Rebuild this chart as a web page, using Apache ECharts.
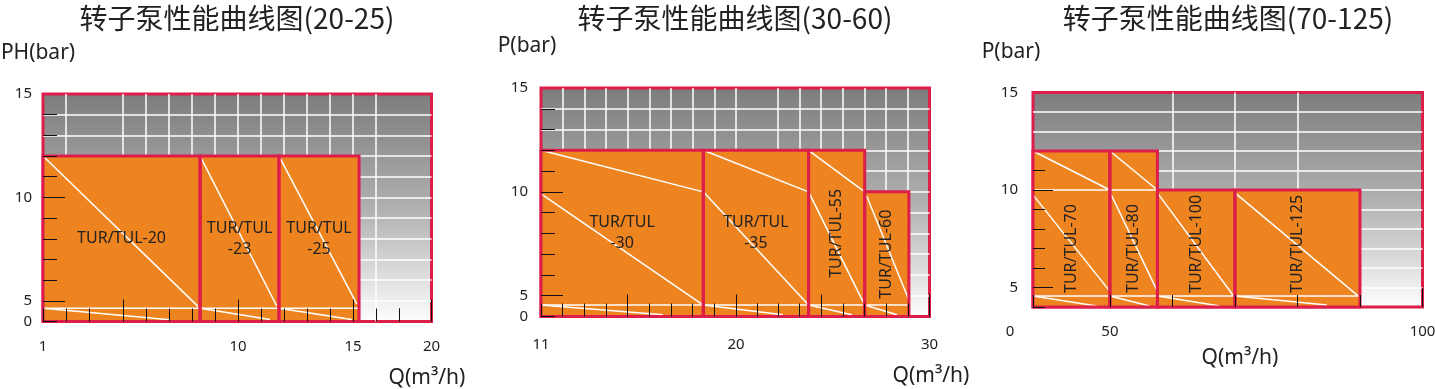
<!DOCTYPE html>
<html><head><meta charset="utf-8">
<script src="https://cdn.jsdelivr.net/npm/echarts@6/dist/echarts.min.js"></script>
<style>html,body{margin:0;padding:0;background:#fff}#c{width:1435px;height:389px}</style>
</head><body><div id="c"></div>
<script>
// ---------------- text ----------------
const titles = ['转子泵性能曲线图(20-25)', '转子泵性能曲线图(30-60)', '转子泵性能曲线图(70-125)'];
const yNames = ['PH(bar)', 'P(bar)', 'P(bar)'];
const xNames = ['Q(m³/h)', 'Q(m³/h)', 'Q(m³/h)'];

// ---------------- axes (values) ----------------
const xRange1 = [1, 20];
const xRange2 = [11, 30];
const xRange3 = [0, 100];
const xLabels1 = [1, 10, 15, 20];
const xLabels2 = [11, 20, 30];
const xLabels3 = [0, 50, 100];
const xMajor1 = [5, 10, 15, 20];
const xMajor2 = [15, 20, 25, 30];
const xMajor3 = [100];
const xMinor3 = [0, 50, 60, 70, 80, 90];
const xGrid3 = [50, 60, 70, 80, 90];
// compressed (broken) parts of the Q axes, as drawn in the original
const xBreaks1 = [[3, 3.52], [17, 18.59]];
const xBreaks2 = [[21, 22.07]];
const xBreaks3 = [[0, 37.7]];
const yRange = [0, 15];
const yBreaks = [[0, 4]];            // compressed part of the P axis
const yLabels12 = [0, 5, 10, 15];
const yLabels3 = [5, 10, 15];
const yMajor = [5, 10];
const yMinor12 = [0, 4, 5, 6, 7, 8, 9, 10, 11, 12, 13, 14];
const yMinor3 = [4, 5, 6, 7, 8, 9, 10, 11];

// ---------------- chart 1 (20-25) ----------------
const models1 = ['TUR/TUL-20', 'TUR/TUL\n-23', 'TUR/TUL\n-25'];
const qStart1 = [1, 8.35, 11.78];
const qEnd1 = [8.35, 11.78, 15.26];
const pTop1 = [12, 12, 12];
const curves1 = [
  [[1, 12], [8.27, 4.72]],
  [[8.35, 12], [11.68, 4.75]],
  [[11.78, 12], [15.16, 4.85]],
  [[1, 4.64], [15.26, 4.64]],
  [[1, 4.64], [7.04, 4.08]],
  [[8.35, 4.64], [11.39, 4.1]],
  [[11.78, 4.64], [14.94, 4.1]]
];

// ---------------- chart 2 (30-60) ----------------
const models2 = ['TUR/TUL\n-30', 'TUR/TUL\n-35', 'TUR/TUL-55', 'TUR/TUL-60'];
const qStart2 = [11, 18.49, 24.42, 27.01];
const qEnd2 = [18.49, 24.42, 27.01, 29.05];
const pTop2 = [12, 12, 12, 10];
const curves2 = [
  [[11, 12], [18.49, 10]],
  [[11, 9.9], [18.49, 4.55]],
  [[18.49, 12], [24.42, 10]],
  [[18.49, 10], [24.42, 4.55]],
  [[24.42, 12], [27.01, 10]],
  [[24.42, 10], [27.01, 4.55]],
  [[27.1, 9.8], [29.02, 4.87]],
  [[11, 4.55], [29.05, 4.55]],
  [[11, 4.55], [16.63, 4.08]],
  [[18.49, 4.55], [23.24, 4.08]],
  [[24.42, 4.55], [26.42, 4.08]],
  [[27.01, 4.55], [28.5, 4.08]]
];

// ---------------- chart 3 (70-125) ----------------
const models3 = ['TUR/TUL-70', 'TUR/TUL-80', 'TUR/TUL-100', 'TUR/TUL-125'];
const qStart3 = [0, 50, 57.6, 70];
const qEnd3 = [50, 57.6, 70, 90];
const pTop3 = [12, 12, 10, 10];
const curves3 = [
  [[0, 12], [50, 10]],
  [[0, 9.75], [50, 4.8]],
  [[50, 12], [57.6, 10]],
  [[50, 9.9], [57.6, 4.8]],
  [[57.6, 9.85], [69.7, 4.6]],
  [[70, 9.85], [89.6, 4.6]],
  [[0, 10], [57.6, 10]],
  [[0, 4.56], [90, 4.56]],
  [[0, 4.56], [47.9, 4.05]],
  [[50, 4.56], [56.4, 4.05]],
  [[57.6, 4.56], [67.6, 4.05]],
  [[70, 4.56], [84.7, 4.1]]
];

// ---------------- styles ----------------
const ORANGE = '#ee8420';
const CRIMSON = '#dd1d4a';
const TXT = '#222';
const FONT = '"Noto Sans", "DejaVu Sans", sans-serif';
const CJK = '"Noto Sans CJK SC", sans-serif';
const bgGrad = new echarts.graphic.LinearGradient(0, 0, 0, 1, [
  { offset: 0, color: '#7c7c7c' },
  { offset: 0.5, color: '#b0b0b0' },
  { offset: 0.8, color: '#dedede' },
  { offset: 1, color: '#ffffff' }
]);

const charts = [
  { grid: { left: 43, top: 94, width: 388.5, height: 227.5 }, xRange: xRange1, xBreaks: xBreaks1,
    xLabels: xLabels1, xMajor: xMajor1, xMinor: null, xGrid: null, yLabels: yLabels12, yMinor: yMinor12,
    models: models1, qs: qStart1, qe: qEnd1, pt: pTop1, curves: curves1, vertical: [false, false, false], bottomText: false,
    yName: { gap: 41, dx: 5 }, xName: { gap: 56.5, dx: 189.75 }, xLabelMargin: 18, yLabelMargin: 11,
    tickShort: 13, tickLong: 22, yShort: 14, yLong: 22 },
  { grid: { left: 541, top: 88, width: 388.5, height: 228.5 }, xRange: xRange2, xBreaks: xBreaks2,
    xLabels: xLabels2, xMajor: xMajor2, xMinor: null, xGrid: null, yLabels: yLabels12, yMinor: yMinor12,
    models: models2, qs: qStart2, qe: qEnd2, pt: pTop2, curves: curves2, vertical: [false, false, true, true], bottomText: false,
    yName: { gap: 42, dx: 14 }, xName: { gap: 59.5, dx: 195.75 }, xLabelMargin: 21, yLabelMargin: 13,
    tickShort: 13, tickLong: 22, yShort: 14, yLong: 22 },
  { grid: { left: 1033, top: 92.5, width: 389.5, height: 214.5 }, xRange: xRange3, xBreaks: xBreaks3,
    xLabels: xLabels3, xMajor: xMajor3, xMinor: xMinor3, xGrid: xGrid3, yLabels: yLabels3, yMinor: yMinor3,
    models: models3, qs: qStart3, qe: qEnd3, pt: pTop3, curves: curves3, vertical: [true, true, true, true], bottomText: true,
    yName: { gap: 40.5, dx: 22 }, xName: { gap: 51, dx: 12.25 }, xLabelMargin: 17, yLabelMargin: 15,
    tickShort: 12, tickLong: 19, yShort: 12, yLong: 20 }
];

const grids = [], xAxes = [], yAxes = [], series = [], graphics = [];
const titleCenters = [237, 735, 1228];

function brk(list) { return list.map(b => ({ start: b[0], end: b[1], gap: 0 })); }

charts.forEach((c, gi) => {
  grids.push(Object.assign({ show: true, backgroundColor: bgGrad, borderColor: CRIMSON, borderWidth: 3,
    containLabel: false, outerBoundsMode: 'none' }, c.grid));
  const xBase = { gridIndex: gi, type: 'value', min: c.xRange[0], max: c.xRange[1], position: 'bottom', offset: 0,
    breaks: brk(c.xBreaks), breakArea: { show: false }, axisLine: { show: false }, axisPointer: { show: false } };
  const yBase = { gridIndex: gi, type: 'value', min: yRange[0], max: yRange[1], position: 'left', offset: 0,
    breaks: brk(yBreaks), breakArea: { show: false }, axisLine: { show: false }, axisPointer: { show: false } };
  const xi = xAxes.length, yi = yAxes.length;
  // layer 0: white grid lines
  xAxes.push(Object.assign({}, xBase, {
    z: 1, axisLabel: { show: false },
    axisTick: c.xGrid ? { show: false, customValues: c.xGrid } : { show: false },
    interval: c.xGrid ? undefined : 1,
    splitLine: { show: true, showMinLine: false, showMaxLine: false, lineStyle: { color: '#ffffff', width: 1.5 } }
  }));
  yAxes.push(Object.assign({}, yBase, {
    z: 1, interval: 1, axisLabel: { show: false }, axisTick: { show: false },
    splitLine: { show: true, showMinLine: false, showMaxLine: false, lineStyle: { color: '#ffffff', width: 1.5 } }
  }));
  // layer 1: short ticks + labels + names
  xAxes.push(Object.assign({}, xBase, {
    z: 10, interval: c.xMinor ? undefined : 1,
    axisTick: c.xMinor ? { show: true, inside: true, length: c.tickShort, customValues: c.xMinor, lineStyle: { color: '#111' } }
                       : { show: true, inside: true, length: c.tickShort, lineStyle: { color: '#111' } },
    splitLine: { show: false },
    axisLabel: { show: true, customValues: c.xLabels, margin: c.xLabelMargin, color: TXT, fontSize: 15, fontFamily: FONT,
      formatter: gi === 2 ? (v => v === 0 ? '{o|0}' : String(v)) : (v => String(v)),
      rich: { o: { padding: [0, 46, 0, 0], fontSize: 15, fontFamily: FONT, color: TXT } } },
    name: xNames[gi], nameLocation: 'middle', nameGap: c.xName.gap,
    nameTextStyle: { fontSize: 21, fontFamily: FONT, color: TXT, align: 'center', verticalAlign: 'middle',
      padding: [0, 0, 0, 2 * c.xName.dx] }
  }));
  yAxes.push(Object.assign({}, yBase, {
    z: 10,
    axisTick: { show: true, inside: true, length: c.yShort, customValues: c.yMinor, lineStyle: { color: '#111' } },
    splitLine: { show: false },
    axisLabel: { show: true, customValues: c.yLabels, margin: c.yLabelMargin, color: TXT, fontSize: 15, fontFamily: FONT },
    name: yNames[gi], nameLocation: 'end', nameGap: c.yName.gap,
    nameTextStyle: { fontSize: 21, fontFamily: FONT, color: TXT, align: 'center', verticalAlign: 'middle',
      padding: [0, 2 * c.yName.dx, 0, 0] }
  }));
  // layer 2: long ticks
  xAxes.push(Object.assign({}, xBase, {
    z: 10, axisLabel: { show: false }, splitLine: { show: false },
    axisTick: { show: true, inside: true, length: c.tickLong, customValues: c.xMajor, lineStyle: { color: '#111' } }
  }));
  yAxes.push(Object.assign({}, yBase, {
    z: 10, axisLabel: { show: false }, splitLine: { show: false },
    axisTick: { show: true, inside: true, length: c.yLong, customValues: yMajor, lineStyle: { color: '#111' } }
  }));

  const boxData = c.qs.map((q, i) => [q, c.qe[i], c.pt[i], i]);
  // fills
  series.push({
    type: 'custom', xAxisIndex: xi, yAxisIndex: yi, z: 2, silent: true, animation: false,
    data: boxData, encode: { x: [0, 1], y: 2 },
    renderItem: (params, api) => {
      const a = api.coord([api.value(0), yRange[0]]);
      const b = api.coord([api.value(1), api.value(2)]);
      return { type: 'rect', shape: { x: a[0], y: b[1], width: b[0] - a[0], height: a[1] - b[1] },
        style: { fill: ORANGE } };
    }
  });
  // curves
  c.curves.forEach(cv => series.push({
    type: 'line', xAxisIndex: xi, yAxisIndex: yi, z: 3, silent: true, animation: false,
    data: cv, symbol: 'none', lineStyle: { color: '#ffffff', width: 1.5 }
  }));
  // outlines + model labels
  series.push({
    type: 'custom', xAxisIndex: xi, yAxisIndex: yi, z: 4, silent: true, animation: false,
    data: boxData, encode: { x: [0, 1], y: 2 },
    renderItem: (params, api) => {
      const i = api.value(3);
      const a = api.coord([api.value(0), yRange[0]]);
      const b = api.coord([api.value(1), api.value(2)]);
      const cx = (a[0] + b[0]) / 2, cy = (a[1] + b[1]) / 2;
      const vert = c.vertical[i];
      const txt = vert
        ? (c.bottomText
            ? { type: 'text', x: cx, y: a[1] - 14, rotation: Math.PI / 2,
                style: { text: c.models[i], align: 'left', verticalAlign: 'middle', fill: TXT, font: '16px ' + FONT } }
            : { type: 'text', x: cx, y: cy, rotation: Math.PI / 2,
                style: { text: c.models[i], align: 'center', verticalAlign: 'middle', fill: TXT, font: '16px ' + FONT } })
        : { type: 'text', x: cx, y: cy,
            style: { text: c.models[i], align: 'center', verticalAlign: 'middle', fill: TXT, font: '16px ' + FONT, lineHeight: 21 } };
      return { type: 'group', children: [
        { type: 'rect', shape: { x: a[0], y: b[1], width: b[0] - a[0], height: a[1] - b[1] },
          style: { fill: 'none', stroke: CRIMSON, lineWidth: 3 } },
        txt
      ] };
    }
  });

  graphics.push({ type: 'text', x: titleCenters[gi], y: 18,
    style: { text: titles[gi], align: 'center', verticalAlign: 'middle', fill: TXT, font: '28px ' + CJK } });
});

const chart = echarts.init(document.getElementById('c'), null, { renderer: 'canvas' });
chart.setOption({
  animation: false,
  backgroundColor: '#ffffff',
  grid: grids,
  xAxis: xAxes,
  yAxis: yAxes,
  series: series,
  graphic: graphics
});
</script></body></html>
